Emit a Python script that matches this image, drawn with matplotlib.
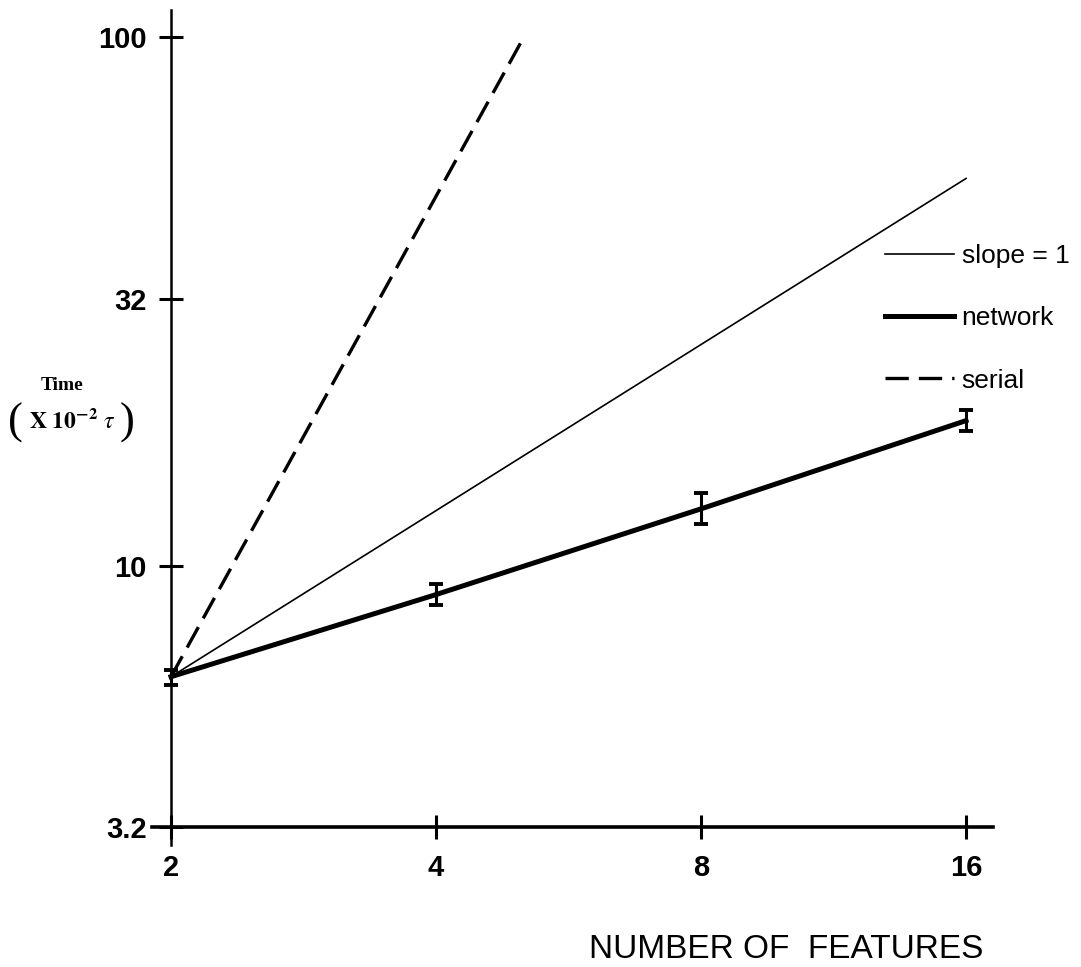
import matplotlib
matplotlib.use('Agg')
import matplotlib.pyplot as plt
from matplotlib.lines import Line2D

# values (log-log axes)
features = [2, 4, 8, 16]
network = [6.16, 8.81, 12.8, 18.8]
network_lo = [5.95, 8.43, 12.0, 18.0]
network_hi = [6.35, 9.21, 13.7, 19.65]

slope_x = [2, 16]
slope_y = [6.16, 54.0]

serial_x = [2, 5.05]
serial_y = [6.16, 101.0]

x_ticks = [2, 4, 8, 16]
x_labels = ['2', '4', '8', '16']
y_ticks = [3.2, 10, 32, 100]
y_labels = ['3.2', '10', '32', '100']

TICK_FONT = ['Liberation Sans Narrow', 'Liberation Sans', 'DejaVu Sans']
plt.rcParams['mathtext.fontset'] = 'stix'

W, H = 1081, 967
fig = plt.figure(figsize=(W / 100, H / 100), dpi=100)
# axes box in pixels: left 152, right 993, top 10, bottom 845
ax = fig.add_axes([152 / W, 1 - 845 / H, (993 - 152) / W, (845 - 10) / H])

ax.set_xscale('log', base=2)
ax.set_yscale('log')
ax.set_xlim(1.903, 17.17)
ax.set_ylim(2.959, 112.5)

err = [[n - lo for n, lo in zip(network, network_lo)],
       [hi - n for n, hi in zip(network, network_hi)]]

SERIAL_DASH = (7, 3)
ax.plot(serial_x, serial_y, color='black', lw=2.4, dashes=SERIAL_DASH,
        solid_capstyle='butt')
ax.plot(slope_x, slope_y, color='black', lw=1.2)
ax.errorbar(features, network, yerr=err, color='black', lw=3.6,
            elinewidth=2.2, capsize=5, capthick=2.8)

for side in ('top', 'right'):
    ax.spines[side].set_visible(False)
ax.spines['left'].set_position(('data', 2))
ax.spines['bottom'].set_position(('data', 3.2))
ax.spines['left'].set_linewidth(1.8)
ax.spines['bottom'].set_linewidth(2.6)

ax.minorticks_off()
ax.set_xticks(x_ticks)
ax.set_xticklabels(x_labels)
ax.set_yticks(y_ticks)
ax.set_yticklabels(y_labels)
ax.tick_params(direction='inout', length=17, width=2.2, colors='black')
ax.tick_params(axis='x', pad=11)
ax.tick_params(axis='y', pad=9)
for lab in ax.get_xticklabels() + ax.get_yticklabels():
    lab.set_family(TICK_FONT)
    lab.set_fontweight('bold')
    lab.set_fontsize(21)

# y label: "Time (X 10^-2 tau)"
fig.text(62 / W, 1 - 386 / H, 'Time', ha='center', va='center',
         family='Liberation Serif', fontweight='bold', fontsize=14)
fig.text(15 / W, 1 - 423 / H, '(', ha='center', va='center',
         family='Liberation Serif', fontsize=32)
fig.text(29 / W, 1 - 421 / H, r'$\mathbf{X\ 10^{-2}}\ \tau$', ha='left',
         va='center', fontsize=17)
fig.text(127 / W, 1 - 423 / H, ')', ha='center', va='center',
         family='Liberation Serif', fontsize=32)

fig.text(786 / W, 1 - 950 / H, 'NUMBER OF  FEATURES', ha='center',
         va='center', family='Liberation Sans', fontsize=24)

handles = [Line2D([], [], color='black', lw=1.2),
           Line2D([], [], color='black', lw=3.6),
           Line2D([], [], color='black', lw=2.4, dashes=SERIAL_DASH)]
fig.legend(handles, ['slope = 1', 'network', 'serial'], loc='upper left',
           bbox_to_anchor=(885 / W, 1 - 244 / H), frameon=False,
           prop={'family': TICK_FONT, 'size': 19}, handlelength=2.6,
           handletextpad=0.3, labelspacing=1.45, borderpad=0,
           borderaxespad=0)

fig.savefig('out.png', dpi=100)
